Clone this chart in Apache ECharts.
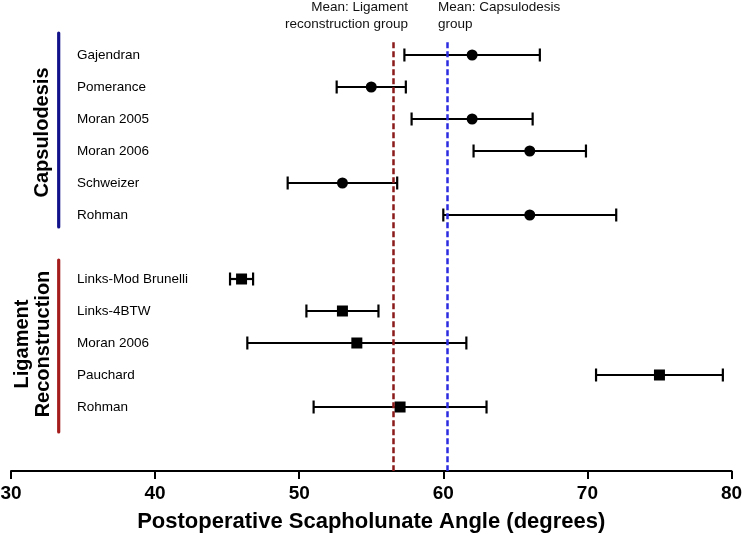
<!DOCTYPE html>
<html>
<head>
<meta charset="utf-8">
<script src="https://cdn.jsdelivr.net/npm/echarts@6/dist/echarts.min.js"></script>
<style>html,body{margin:0;padding:0;background:#fff}#c{width:742px;height:536px}</style>
</head>
<body>
<div id="c"></div>
<script>
// Capsulodesis group
const capNames = ['Gajendran', 'Pomerance', 'Moran 2005', 'Moran 2006', 'Schweizer', 'Rohman'];
const capMeans = [62, 55, 62, 66, 53, 66];
const capLow   = [57.3, 52.6, 57.8, 62.1, 49.2, 60.0];
const capHigh  = [66.7, 57.4, 66.2, 69.9, 56.8, 72.0];
// Ligament reconstruction group
const ligNames = ['Links-Mod Brunelli', 'Links-4BTW', 'Moran 2006', 'Pauchard', 'Rohman'];
const ligMeans = [46, 53, 54, 75, 57];
const ligLow   = [45.2, 50.5, 46.4, 70.6, 51.0];
const ligHigh  = [46.8, 55.5, 61.6, 79.4, 63.0];
// Group means (vertical dashed lines)
const meanLig = 56.5;
const meanCap = 60.3;
// Axis
const xTicks = [30, 40, 50, 60, 70, 80];

const FONT = '"Liberation Sans", Arial, sans-serif';
const capRows = capNames.map((_, i) => i);
const ligRows = ligNames.map((_, i) => capNames.length + 1 + i);
const rowLabels = {};
capRows.forEach((r, i) => rowLabels[r] = capNames[i]);
ligRows.forEach((r, i) => rowLabels[r] = ligNames[i]);

const errData = capRows.map((r, i) => [r, capLow[i], capHigh[i]])
  .concat(ligRows.map((r, i) => [r, ligLow[i], ligHigh[i]]));
const capPts = capRows.map((r, i) => [capMeans[i], r]);
const ligPts = ligRows.map((r, i) => [ligMeans[i], r]);

const chart = echarts.init(document.getElementById('c'));
chart.setOption({
  animation: false,
  grid: { left: 11, right: 10.5, top: 23, bottom: 65, containLabel: false, outerBoundsMode: 'none' },
  xAxis: {
    type: 'value', min: xTicks[0], max: xTicks[xTicks.length - 1], interval: 10,
    axisLine: { show: true, onZero: false, lineStyle: { color: '#000', width: 2 } },
    axisTick: { show: true, length: 8, lineStyle: { color: '#000', width: 2 } },
    splitLine: { show: false },
    axisLabel: { color: '#000', fontSize: 19, fontWeight: 'bold', fontFamily: FONT, margin: 13 },
    name: 'Postoperative Scapholunate Angle (degrees)',
    nameLocation: 'middle', nameGap: 40,
    nameTextStyle: { color: '#000', fontSize: 22, fontWeight: 'bold', fontFamily: FONT }
  },
  yAxis: {
    type: 'value', min: -1, max: capNames.length + ligNames.length + 2, interval: 1, inverse: true,
    axisLine: { show: false }, axisTick: { show: false }, splitLine: { show: false },
    axisLabel: {
      inside: true, margin: 66, color: '#000', fontSize: 13.5, fontFamily: FONT,
      formatter: v => rowLabels[v] || ''
    }
  },
  series: [
    {
      type: 'custom', z: 2,
      data: errData,
      encode: { x: [1, 2], y: 0 },
      renderItem: function (params, api) {
        const y = api.value(0);
        const a = api.coord([api.value(1), y]);
        const b = api.coord([api.value(2), y]);
        const h = 6.5;
        const st = { stroke: '#000', lineWidth: 2.2 };
        return {
          type: 'group',
          children: [
            { type: 'line', shape: { x1: a[0], y1: a[1], x2: b[0], y2: b[1] }, style: st },
            { type: 'line', shape: { x1: a[0], y1: a[1] - h, x2: a[0], y2: a[1] + h }, style: st },
            { type: 'line', shape: { x1: b[0], y1: b[1] - h, x2: b[0], y2: b[1] + h }, style: st }
          ]
        };
      }
    },
    {
      type: 'scatter', z: 3, data: capPts, symbol: 'circle', symbolSize: 11,
      itemStyle: { color: '#000', opacity: 1 }
    },
    {
      type: 'scatter', z: 3, data: ligPts, symbol: 'rect', symbolSize: 11,
      itemStyle: { color: '#000', opacity: 1 },
      markLine: {
        silent: true, symbol: 'none', label: { show: false },
        data: [
          [{ coord: [meanLig, -0.4] }, { coord: [meanLig, 13] }],
          [{ coord: [meanCap, -0.4] }, { coord: [meanCap, 13] }]
        ].map((d, i) => {
          d[0].lineStyle = { color: i === 0 ? '#8b1a1a' : '#2b2be0', width: 2.5, type: [6, 3] };
          return d;
        })
      }
    }
  ],
  graphic: [
    { type: 'text', x: 408, y: 16, style: { text: 'Mean: Ligament\nreconstruction group', align: 'right', verticalAlign: 'middle', lineHeight: 17, font: '13.5px ' + FONT, fill: '#111' } },
    { type: 'text', x: 438, y: 16, style: { text: 'Mean: Capsulodesis\ngroup', align: 'left', verticalAlign: 'middle', lineHeight: 17, font: '13.5px ' + FONT, fill: '#111' } },
    { type: 'line', shape: { x1: 58.7, y1: 33, x2: 58.7, y2: 227 }, style: { stroke: '#12128a', lineWidth: 3.2, lineCap: 'round' } },
    { type: 'line', shape: { x1: 58.7, y1: 260, x2: 58.7, y2: 432 }, style: { stroke: '#a51c1c', lineWidth: 3.2, lineCap: 'round' } },
    { type: 'text', x: 42, y: 132.5, rotation: Math.PI / 2, style: { text: 'Capsulodesis', align: 'center', verticalAlign: 'middle', font: 'bold 20px ' + FONT, fill: '#000' } },
    { type: 'text', x: 33, y: 344, rotation: Math.PI / 2, style: { text: 'Ligament\nReconstruction', align: 'center', verticalAlign: 'middle', lineHeight: 21, font: 'bold 20px ' + FONT, fill: '#000' } }
  ]
});
</script>
</body>
</html>
